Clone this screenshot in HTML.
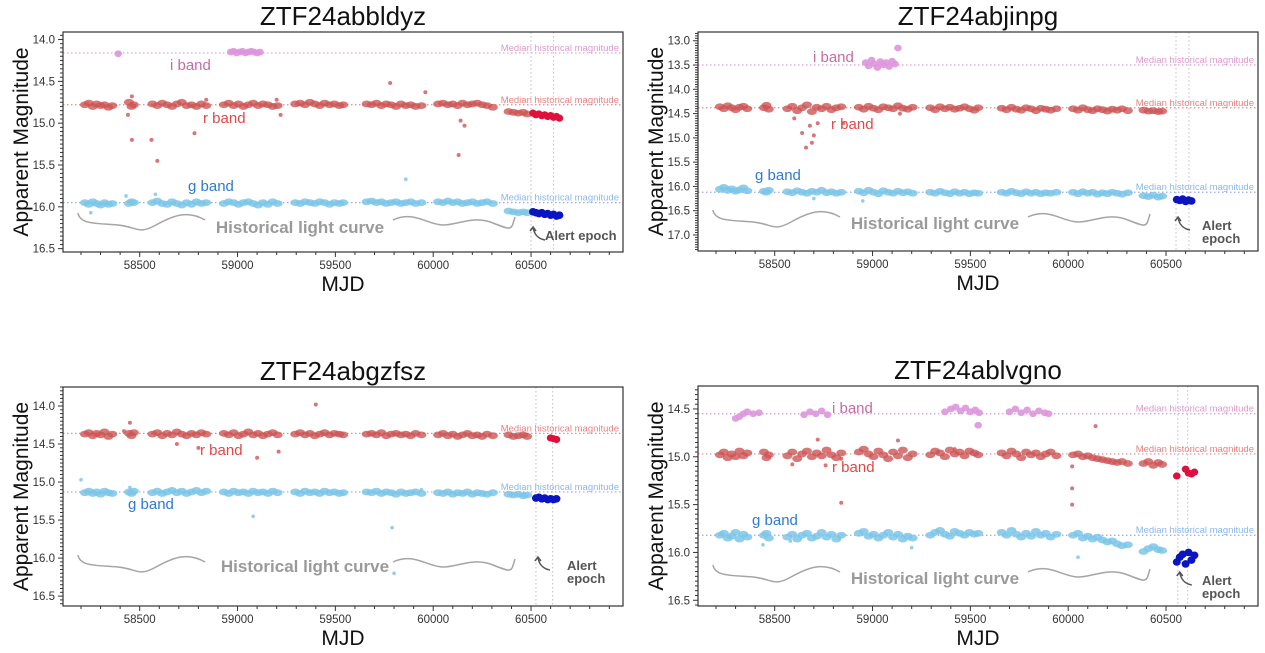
<!DOCTYPE html>
<html><head><meta charset="utf-8">
<style>
html,body{margin:0;padding:0;background:#fff;}
svg{display:block;font-family:"Liberation Sans","DejaVu Sans",sans-serif;}
</style></head>
<body>
<svg id="fig" width="1265" height="653" viewBox="0 0 1265 653"></svg>
<script>
// ---------- shared observation epochs (MJD) ----------
const epochs = [58220,58240,58260,58280,58300,58320,58340,58360, 58445,58458,58470,
 58565,58590,58615,58640,58665,58690,58715,58740,58765,58790,58815,58840,
 58930,58955,58980,59005,59030,59055,59080,59105,59130,59155,59180,59205,
 59295,59320,59345,59370,59395,59420,59445,59470,59495,59520,59540,
 59660,59685,59710,59735,59760,59785,59810,59835,59860,59885,59910,59940,
 60025,60050,60075,60100,60125,60150,60175,60200,60225,60250,60275,60305,
 60385,60410,60435,60460,60480];
const xTicks = [58500,59000,59500,60000,60500];
const alertEpochs = [60510,60525,60540,60555,60570,60585,60600,60615,60630,60645];

// ---------- ZTF24abbldyz ----------
const p1R = [14.78,14.76,14.80,14.77,14.79,14.78,14.81,14.79, 14.75,14.80,14.78,
 14.77,14.79,14.76,14.78,14.80,14.77,14.75,14.79,14.78,14.80,14.77,14.79,
 14.78,14.76,14.79,14.77,14.80,14.78,14.76,14.79,14.77,14.78,14.80,14.79,
 14.77,14.76,14.78,14.75,14.77,14.79,14.76,14.78,14.77,14.79,14.78,
 14.77,14.78,14.76,14.79,14.77,14.78,14.80,14.77,14.79,14.78,14.80,14.79,
 14.77,14.76,14.78,14.77,14.79,14.76,14.78,14.77,14.76,14.78,14.79,14.81,
 14.86,14.87,14.88,14.87,14.89];
const p1G = [15.95,15.97,15.94,15.96,15.98,15.95,15.97,15.96, 15.96,15.94,15.95,
 15.95,15.93,15.96,15.97,15.94,15.96,15.98,15.95,15.97,15.94,15.96,15.95,
 15.96,15.94,15.95,15.97,15.95,15.94,15.96,15.98,15.95,15.97,15.94,15.96,
 15.95,15.96,15.94,15.95,15.96,15.94,15.95,15.97,15.95,15.96,15.95,
 15.94,15.93,15.95,15.94,15.96,15.95,15.94,15.96,15.95,15.94,15.96,15.95,
 15.94,15.95,15.93,15.95,15.94,15.96,15.95,15.94,15.96,15.95,15.94,15.96,
 16.05,16.06,16.07,16.06,16.07];
const p1I = [[58965,14.15],[58980,14.14],[58995,14.16],[59010,14.15],[59025,14.14],[59040,14.16],[59055,14.15],[59070,14.14],[59085,14.15],[59100,14.16],[59115,14.15],[58390,14.17]];
const p1Rout = [[58460,14.68],[58440,14.90],[58460,15.20],[58560,15.20],[58590,15.45],[58780,15.12],[58840,14.72],[59200,14.72],[59220,14.90],[59780,14.52],[59960,14.63],[60140,14.97],[60160,15.03],[60130,15.38]];
const p1Gout = [[59860,15.67],[58580,15.85],[58430,15.87],[58250,16.07]];
const p1AlertR = [14.88,14.90,14.89,14.91,14.90,14.92,14.91,14.93,14.92,14.94];
const p1AlertG = [16.06,16.07,16.08,16.07,16.09,16.08,16.10,16.09,16.11,16.10];
const p1Med = [14.16,14.78,15.95];
const p1Y = [14.0,14.5,15.0,15.5,16.0,16.5];

// ---------- ZTF24abjinpg ----------
const p2R = [14.36,14.40,14.34,14.38,14.42,14.37,14.35,14.40, 14.38,14.33,14.41,
 14.40,14.35,14.44,14.38,14.32,14.46,14.37,14.40,14.35,14.42,14.38,14.36,
 14.37,14.41,14.35,14.39,14.42,14.36,14.38,14.40,14.34,14.39,14.41,14.37,
 14.38,14.42,14.36,14.40,14.37,14.41,14.39,14.36,14.40,14.43,14.38,
 14.39,14.42,14.37,14.41,14.43,14.38,14.40,14.44,14.39,14.41,14.43,14.40,
 14.40,14.43,14.38,14.42,14.44,14.40,14.42,14.45,14.41,14.43,14.40,14.44,
 14.43,14.45,14.44,14.46,14.45];
const p2G = [16.06,16.02,16.08,16.05,16.10,16.07,16.03,16.09, 16.10,16.12,16.08,
 16.11,16.13,16.09,16.12,16.14,16.10,16.12,16.08,16.13,16.11,16.14,16.12,
 16.10,16.13,16.08,16.12,16.15,16.09,16.12,16.14,16.10,16.13,16.11,16.14,
 16.12,16.14,16.10,16.13,16.15,16.11,16.14,16.12,16.15,16.13,16.14,
 16.12,16.14,16.10,16.13,16.15,16.11,16.14,16.12,16.15,16.13,16.14,16.12,
 16.12,16.15,16.11,16.14,16.12,16.16,16.13,16.15,16.12,16.14,16.16,16.13,
 16.19,16.21,16.18,16.22,16.20];
const p2I = [[58965,13.45],[58980,13.52],[58995,13.40],[59010,13.48],[59025,13.55],[59040,13.43],[59055,13.50],[59070,13.45],[59085,13.53],[59100,13.42],[59115,13.48],[59130,13.15]];
const p2Rout = [[58640,14.90],[58660,15.20],[58690,15.10],[58700,14.95],[58720,14.70],[58600,14.60],[58850,14.70],[59140,14.50],[58680,14.75]];
const p2Gout = [[58950,16.30],[58700,16.25]];
const p2AlertR = [];
const p2AlertG = [null,null,null,16.27,16.29,16.26,16.31,16.28,16.30,null];
const p2Med = [13.50,14.38,16.12];
const p2Y = [13.0,13.5,14.0,14.5,15.0,15.5,16.0,16.5,17.0];

// ---------- ZTF24abgzfsz ----------
const p3R = [14.37,14.35,14.39,14.36,14.38,14.34,14.40,14.37, 14.36,14.39,14.35,
 14.37,14.35,14.39,14.36,14.38,14.34,14.37,14.39,14.36,14.38,14.35,14.37,
 14.36,14.38,14.35,14.39,14.37,14.34,14.38,14.36,14.39,14.37,14.35,14.38,
 14.37,14.35,14.38,14.36,14.39,14.37,14.35,14.38,14.36,14.37,14.38,
 14.37,14.36,14.38,14.35,14.39,14.37,14.36,14.38,14.37,14.39,14.36,14.38,
 14.38,14.36,14.39,14.37,14.40,14.38,14.36,14.39,14.38,14.40,14.37,14.39,
 14.38,14.40,14.39,14.38,14.40];
const p3G = [15.14,15.12,15.15,15.13,15.16,15.12,15.14,15.15, 15.13,15.15,15.12,
 15.14,15.12,15.15,15.13,15.11,15.14,15.12,15.15,15.13,15.11,15.14,15.12,
 15.13,15.15,15.12,15.14,15.13,15.15,15.12,15.14,15.13,15.15,15.12,15.14,
 15.13,15.15,15.12,15.14,15.13,15.15,15.12,15.14,15.13,15.15,15.14,
 15.13,15.14,15.12,15.15,15.13,15.14,15.16,15.13,15.15,15.14,15.13,15.15,
 15.14,15.15,15.13,15.16,15.14,15.15,15.13,15.16,15.14,15.15,15.16,15.14,
 15.16,15.17,15.16,15.18,15.17];
const p3I = [];
const p3Rout = [[59400,13.98],[58450,14.22],[58420,14.33],[58690,14.50],[58800,14.55],[59100,14.68],[59210,14.60]];
const p3Gout = [[58200,14.97],[58450,15.07],[59080,15.45],[59790,15.60],[59800,16.20],[59940,15.10]];
const p3AlertR = [null,null,null,null,null,null,14.42,14.43,14.44,null];
const p3AlertG = [null,15.21,15.20,15.22,15.21,15.23,15.22,15.23,15.22,null];
const p3Med = [null,14.36,15.13];
const p3Y = [14.0,14.5,15.0,15.5,16.0,16.5];

// ---------- ZTF24ablvgno ----------
const p4R = [14.98,14.95,15.01,14.97,15.00,14.94,14.99,14.96, 14.95,15.01,14.98,
 14.99,14.95,15.02,14.97,14.94,15.00,14.96,14.99,14.93,14.98,15.01,14.96,
 14.95,14.92,14.97,15.00,14.94,14.98,15.02,14.95,14.99,14.93,15.01,14.97,
 14.98,14.94,14.96,15.00,14.93,14.97,14.95,14.99,14.94,14.96,14.98,
 14.96,14.99,14.94,14.97,15.01,14.95,14.98,14.96,15.00,14.97,14.95,14.99,
 14.98,14.97,15.00,14.99,15.01,15.02,15.03,15.04,15.05,15.06,15.05,15.07,
 15.07,15.05,15.09,15.06,15.08];
const p4G = [15.82,15.80,15.85,15.83,15.79,15.86,15.81,15.84, 15.82,15.80,15.85,
 15.84,15.81,15.86,15.82,15.80,15.85,15.83,15.79,15.84,15.81,15.86,15.82,
 15.80,15.78,15.83,15.81,15.85,15.82,15.79,15.84,15.81,15.86,15.83,15.85,
 15.82,15.79,15.77,15.81,15.83,15.78,15.80,15.82,15.79,15.81,15.80,
 15.79,15.82,15.77,15.81,15.84,15.80,15.83,15.78,15.82,15.80,15.84,15.81,
 15.82,15.80,15.85,15.83,15.86,15.84,15.87,15.89,15.88,15.91,15.93,15.92,
 15.99,15.96,15.94,15.97,15.98];
const p4I = [[58300,14.60],[58320,14.58],[58340,14.55],[58360,14.53],[58390,14.55],[58420,14.54],
 [58650,14.56],[58680,14.53],[58710,14.55],[58740,14.52],[58770,14.56],
 [59370,14.53],[59400,14.50],[59425,14.48],[59450,14.52],[59475,14.49],[59500,14.53],[59525,14.51],[59545,14.54],[59540,14.67],
 [59700,14.53],[59730,14.50],[59760,14.54],[59790,14.51],[59820,14.55],[59850,14.52],[59880,14.54],[59900,14.55]];
const p4Rout = [[58720,14.82],[58840,15.48],[58840,15.02],[59130,14.83],[59420,14.92],[60020,15.33],[60020,15.50],[60140,14.68],[60020,15.10],[58590,15.08],[58760,15.09]];
const p4Gout = [[58830,15.85],[59200,15.95],[60050,16.05],[58440,15.92],[58580,15.88]];
const p4AlertR = [null,null,null,15.20,null,null,15.13,15.17,15.18,15.16];
const p4AlertG = [null,null,null,16.10,16.05,16.02,16.12,16.00,16.08,16.03];
const p4Med = [14.55,14.97,15.82];
const p4Y = [14.5,15.0,15.5,16.0,16.5];

const NS = 'http://www.w3.org/2000/svg';
const svg = document.getElementById('fig');
function mk(tag, attrs, parent, text){
  const e = document.createElementNS(NS, tag);
  for (const k in attrs) e.setAttribute(k, attrs[k]);
  if (text !== undefined) e.textContent = text;
  (parent || svg).appendChild(e);
  return e;
}

const panels = [
 {title:'ZTF24abbldyz', x0:63, x1:623, y0:32, y1:252, ymin:13.91, ymax:16.54, R:p1R, G:p1G, I:p1I, Rout:p1Rout, Gout:p1Gout, AR:p1AlertR, AG:p1AlertG, med:p1Med, yt:p1Y, vl:[60500,60615],
  labels:{i:[170,70], r:[203,123], g:[188,191], hist:[300,233], alert:[[545,240]]}, braceY:225},
 {title:'ZTF24abjinpg', x0:698, x1:1258, y0:32, y1:251, ymin:12.82, ymax:17.33, R:p2R, G:p2G, I:p2I, Rout:p2Rout, Gout:p2Gout, AR:p2AlertR, AG:p2AlertG, med:p2Med, yt:p2Y, vl:[60551,60617],
  labels:{i:[813,62], r:[831,129], g:[755,180], hist:[935,229], alert:[[1202,230],[1202,243]]}, braceY:222},
 {title:'ZTF24abgzfsz', x0:63, x1:623, y0:387, y1:606, ymin:13.75, ymax:16.63, R:p3R, G:p3G, I:p3I, Rout:p3Rout, Gout:p3Gout, AR:p3AlertR, AG:p3AlertG, med:p3Med, yt:p3Y, vl:[60525,60610],
  labels:{r:[200,455], g:[128,509], hist:[305,572], alert:[[567,570],[567,583]]}, braceY:567},
 {title:'ZTF24ablvgno', x0:698, x1:1258, y0:386, y1:606, ymin:14.26, ymax:16.56, R:p4R, G:p4G, I:p4I, Rout:p4Rout, Gout:p4Gout, AR:p4AlertR, AG:p4AlertG, med:p4Med, yt:p4Y, vl:[60560,60610],
  labels:{i:[832,413], r:[832,472], g:[752,525], hist:[935,584], alert:[[1202,585],[1202,598]]}, braceY:577}
];
const XMIN = 58108, XMAX = 60970;
const colR='rgba(205,85,85,0.8)', colG='rgba(125,198,232,0.85)', colI='rgba(221,150,221,0.9)', colAR='#e0103c', colAG='#0a14c0';
const medCols=['#d99ad9','#e68a8a','#9aa8e8'];
const medTxt=['#dd99cc','#e88080','#8ab8e8'];

panels.forEach((p, pi) => {
  const g = mk('g', {}, svg);
  
  
  const sx = v => p.x0 + (v - XMIN) / (XMAX - XMIN) * (p.x1 - p.x0);
  const sy = v => p.y0 + (v - p.ymin) / (p.ymax - p.ymin) * (p.y1 - p.y0);
  const cx = (p.x0 + p.x1) / 2;
  const t = mk('text', {x:cx, y:p.y0 - 7, 'text-anchor':'middle', 'font-size':26, fill:'#111'}, g, p.title);
  
  
  const xl = mk('text', {x:cx, y:p.y1 + 39, 'text-anchor':'middle', 'font-size':21, fill:'#111'}, g, 'MJD');
  
  
  const ym = (p.y0 + p.y1) / 2, yx = p.x0 - 35;
  const yl = mk('text', {x:yx, y:ym, 'text-anchor':'middle', 'font-size':21, fill:'#111', transform:`rotate(-90 ${yx} ${ym})`}, g, 'Apparent Magnitude');
  
  

  p.med.forEach((m, k) => {
    if (m === null) return;
    const l = mk('line', {x1:p.x0, x2:p.x1, y1:sy(m), y2:sy(m), stroke:medCols[k], 'stroke-width':1.2, 'stroke-dasharray':'1.5 2.5'}, g);
    
    
    const mt = mk('text', {x:p.x1 - 4, y:sy(m) - 2, 'text-anchor':'end', 'font-size':9.5, fill:medTxt[k]}, g, 'Median historical magnitude');
    
    
  });
  p.vl.forEach(v => {
    const l = mk('line', {x1:sx(v), x2:sx(v), y1:p.y0, y2:p.y1, stroke:'#c8c8d0', 'stroke-width':1.2, 'stroke-dasharray':'1.5 2.5'}, g);
    
    
  });

  const dot = (x, y, col, name, rx, ry) => {
    const c = mk('ellipse', {cx:sx(x), cy:sy(y), rx:rx, ry:ry, fill:col}, g);
    
    
  };
  epochs.forEach((e, k) => { dot(e, p.G[k], colG, 'g-band-point', 5, 3.4); });
  p.Gout.forEach(q => dot(q[0], q[1], colG, 'g-band-point', 1.8, 1.8));
  epochs.forEach((e, k) => { dot(e, p.R[k], colR, 'r-band-point', 5, 3.4); });
  p.Rout.forEach(q => dot(q[0], q[1], colR, 'r-band-point', 2, 2));
  p.I.forEach(q => dot(q[0], q[1], colI, 'i-band-point', 3.8, 3.4));
  alertEpochs.forEach((e, k) => {
    if (p.AR[k] != null) dot(e, p.AR[k], colAR, 'alert-r-point', 3.8, 3.6);
    if (p.AG[k] != null) dot(e, p.AG[k], colAG, 'alert-g-point', 4, 3.8);
  });

  const fr = mk('rect', {x:p.x0, y:p.y0, width:p.x1 - p.x0, height:p.y1 - p.y0, fill:'none', stroke:'#333', 'stroke-width':1.2}, g);
  
  
  for (let v = 58200; v <= 60900; v += 100) {
    const major = xTicks.includes(v);
    mk('line', {x1:sx(v), x2:sx(v), y1:p.y1, y2:p.y1 + (major ? 5 : 3), stroke:'#333', 'stroke-width':1}, g);
  }
  xTicks.forEach(v => {
    const tt = mk('text', {x:sx(v), y:p.y1 + 17, 'text-anchor':'middle', 'font-size':11.5, fill:'#333'}, g, String(v));
    
    
  });
  const ystart = Math.ceil(p.ymin * 20) / 20;
  for (let v = ystart; v <= p.ymax + 1e-9; v += 0.05) {
    const major = Math.abs(v * 2 - Math.round(v * 2)) < 1e-6;
    mk('line', {x1:p.x0 - (major ? 5 : 3), x2:p.x0, y1:sy(v), y2:sy(v), stroke:'#333', 'stroke-width':1}, g);
  }
  p.yt.forEach(v => {
    const tt = mk('text', {x:p.x0 - 8, y:sy(v) + 4, 'text-anchor':'end', 'font-size':11.5, fill:'#333'}, g, v.toFixed(1));
    
    
  });

  const L = p.labels;
  if (L.i) { const a = mk('text', {x:L.i[0], y:L.i[1], 'font-size':15, fill:'#c86aa8'}, g, 'i band');   }
  { const a = mk('text', {x:L.r[0], y:L.r[1], 'font-size':15, fill:'#e04848'}, g, 'r band');   }
  { const a = mk('text', {x:L.g[0], y:L.g[1], 'font-size':15, fill:'#2e7ad0'}, g, 'g band');   }
  { const a = mk('text', {x:L.hist[0], y:L.hist[1], 'text-anchor':'middle', 'font-size':17, 'font-weight':'bold', fill:'#9a9a9a'}, g, 'Historical light curve');   }
  const words = L.alert.length === 1 ? ['Alert epoch'] : ['Alert', 'epoch'];
  L.alert.forEach((pos, k) => {
    const a = mk('text', {x:pos[0], y:pos[1], 'font-size':13, 'font-weight':'bold', fill:'#555'}, g, words[k]);
    
    
  });
  const by = p.braceY, lx = p.x0 + 15, rx = p.x0 + 330;
  const b1 = mk('path', {d:`M${lx},${by-12} C${lx+2},${by} ${lx+20},${by-2} ${lx+40},${by} S${lx+60},${by+10} ${lx+78},${by} S${lx+110},${by-15} ${lx+127},${by-5}`, fill:'none', stroke:'#a5a5a5', 'stroke-width':1.5}, g);
   
  const b2 = mk('path', {d:`M${rx},${by-5} C${rx+20},${by-15} ${rx+35},${by} ${rx+50},${by} S${rx+80},${by-10} ${rx+100},${by-2} S${rx+118},${by+5} ${rx+122},${by-8}`, fill:'none', stroke:'#a5a5a5', 'stroke-width':1.5}, g);
   
  const ax = sx(p.vl[0]);
  const ay = L.alert[0][1] - 13;
  const ar = mk('path', {d:`M${ax+2},${ay} C${ax+3},${ay+8} ${ax+8},${ay+12} ${ax+14},${ay+13} M${ax-1},${ay+4} L${ax+2},${ay} L${ax+5},${ay+4}`, fill:'none', stroke:'#555', 'stroke-width':1.5}, g);
   
});
</script>
</body></html>
